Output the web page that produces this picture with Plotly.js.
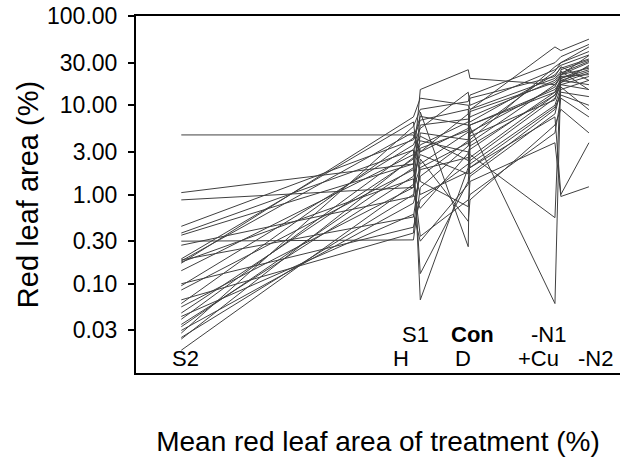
<!DOCTYPE html>
<html>
<head>
<meta charset="utf-8">
<script src="https://cdn.plot.ly/plotly-3.0.1.min.js"></script>
<style>
  html, body { margin: 0; padding: 0; background: #fff; }
  #chart { width: 621px; height: 457px; }
</style>
</head>
<body>
<div id="chart"></div>
<script>
// Treatments ordered by their mean red leaf area (%), used as x positions.
const treatments = ["S2", "H", "S1", "D", "Con", "+Cu", "-N1", "-N2"];
const treatmentMeans = [0.125, 2.25, 2.45, 4.45, 4.55, 13.1, 14.1, 20];

// Red leaf area (%) of each genotype under each treatment (same order as above).
const g01 = [4.65, 4.65, 3.0, 5.5, 8.5, 18, 22, 30];
const g02 = [1.05, 2.2, 15, 25, 20, 17, 20, 25];
const g03 = [0.87, 1.2, 8.4, 0.26, 6, 14, 18, 28];
const g04 = [0.44, 4.1, 6.8, 9, 2.8, 0.55, 25, 32];
const g05 = [0.37, 3.15, 0.066, 2, 4.1, 27, 30, 45];
const g06 = [0.35, 2.2, 0.13, 1.4, 2.6, 13, 19, 24];
const g07 = [0.30, 0.31, 1.2, 3.5, 5.7, 0.06, 22, 36];
const g08 = [0.27, 0.95, 4.9, 4.1, 8.9, 45, 41, 55];
const g09 = [0.19, 6.5, 1.4, 0.73, 1.4, 3.8, 0.95, 1.22];
const g10 = [0.185, 0.56, 1.9, 2.6, 2.0, 7.4, 1.0, 3.8];
const g11 = [0.18, 5.0, 3.0, 8, 12, 21, 27, 19];
const g12 = [0.175, 1.5, 0.34, 0.87, 1.0, 4.9, 12, 7.4];
const g13 = [0.17, 7.4, 12, 10, 9, 20, 24, 14.9];
const g14 = [0.14, 2.8, 2.2, 5, 4.5, 11.5, 18, 23];
const g15 = [0.10, 0.43, 0.87, 2.2, 1.7, 9, 14, 12.5];
const g16 = [0.095, 3.6, 5.5, 14, 10, 25, 28, 36.6];
const g17 = [0.085, 1.9, 1.0, 1.8, 2.2, 10, 16, 8.9];
const g18 = [0.066, 0.37, 2.5, 0.5, 0.87, 6, 9, 4.9];
const g19 = [0.06, 4.3, 7.5, 6, 4.8, 24, 30, 40];
const g20 = [0.055, 1.2, 2.0, 3.8, 3.2, 14, 20, 27];
const g21 = [0.047, 2.5, 3.6, 6.5, 7.4, 19, 23, 31];
const g22 = [0.043, 0.6, 0.3, 1.3, 1.6, 8, 15, 19];
const g23 = [0.04, 3.2, 4.5, 2.4, 3.8, 17, 21, 22];
const g24 = [0.035, 1.6, 2.8, 1.7, 2.4, 12, 17, 15];
const g25 = [0.033, 2.0, 6, 7, 6.5, 22, 26, 33];
const g26 = [0.03, 0.8, 1.6, 4, 5, 16, 22, 26];
const g27 = [0.028, 5.8, 9, 11, 13, 30, 35, 48];
const g28 = [0.025, 1.0, 0.7, 2.9, 3.5, 13, 17, 21];
const g29 = [0.024, 2.6, 4.0, 3.0, 2.0, 9.5, 13, 10];
const g30 = [0.018, 1.3, 3.3, 5.2, 6, 15, 19, 17];

const genotypes = [g01, g02, g03, g04, g05, g06, g07, g08, g09, g10,
                   g11, g12, g13, g14, g15, g16, g17, g18, g19, g20,
                   g21, g22, g23, g24, g25, g26, g27, g28, g29, g30];

// Y axis ticks
const yTickVals = [0.03, 0.1, 0.3, 1, 3, 10, 30, 100];
const yTickText = ["0.03", "0.10", "0.30", "1.00", "3.00", "10.00", "30.00", "100.00"];

const FONT = 'Arial, "Liberation Sans", sans-serif';

const traces = genotypes.map(vals => ({
  type: "scatter",
  mode: "lines",
  x: treatmentMeans,
  y: vals,
  line: { color: "#404040", width: 1 },
  hoverinfo: "skip",
  showlegend: false
}));

// Treatment labels along the bottom, in two rows
const labelRow = { "S2": 0, "H": 0, "S1": 1, "D": 0, "Con": 1, "+Cu": 0, "-N1": 1, "-N2": 0 };
const labelShift = { "S2": 4, "H": -12, "S1": -5, "D": -5, "Con": 2, "+Cu": -16, "-N1": -12, "-N2": 7 };

const annotations = treatments.map((name, i) => ({
  xref: "x", yref: "paper",
  x: Math.log10(treatmentMeans[i]),
  y: 0,
  xanchor: "center", yanchor: "bottom",
  xshift: labelShift[name],
  yshift: labelRow[name] === 1 ? 24 : 0,
  showarrow: false,
  text: name === "Con" ? "<b>Con</b>" : name,
  font: { family: FONT, size: 22, color: "#000" }
}));

const layout = {
  width: 621,
  height: 457,
  margin: { l: 136, r: 1, t: 16, b: 84, pad: 0 },
  paper_bgcolor: "#fff",
  plot_bgcolor: "#fff",
  font: { family: FONT, color: "#000" },
  showlegend: false,
  xaxis: {
    type: "log",
    range: [-1.148, 1.469],
    showgrid: false,
    zeroline: false,
    showticklabels: false,
    ticks: "",
    showline: true,
    linecolor: "#000",
    linewidth: 2,
    mirror: true,
    title: {
      text: "Mean red leaf area of treatment (%)",
      font: { family: FONT, size: 28, color: "#000" },
      standoff: 60
    }
  },
  yaxis: {
    type: "log",
    range: [-2, 2],
    showgrid: false,
    zeroline: false,
    tickvals: yTickVals,
    ticktext: yTickText,
    ticks: "outside",
    ticklen: 6,
    tickwidth: 2,
    tickcolor: "#000",
    tickfont: { family: FONT, size: 23, color: "#000" },
    ticklabelstandoff: 6,
    showline: true,
    linecolor: "#000",
    linewidth: 2,
    mirror: false,
    title: {
      text: "Red leaf area (%)",
      font: { family: FONT, size: 29, color: "#000" },
      standoff: 0
    }
  },
  annotations: annotations
};

Plotly.newPlot("chart", traces, layout, { staticPlot: true, displayModeBar: false });
</script>
</body>
</html>
